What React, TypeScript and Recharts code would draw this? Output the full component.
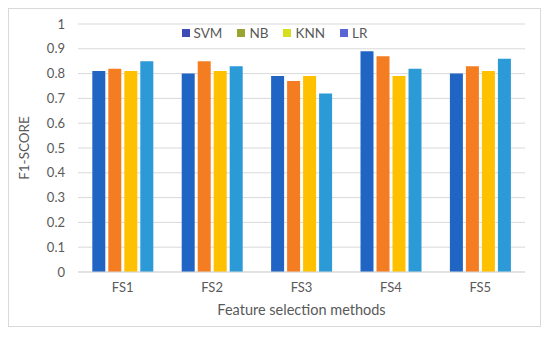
import React from 'react'
import { BarChart, Bar, XAxis, YAxis, CartesianGrid, Legend, Label } from 'recharts'

const methods = ['FS1', 'FS2', 'FS3', 'FS4', 'FS5']
const svm = [0.81, 0.8, 0.79, 0.89, 0.8]
const nb = [0.82, 0.85, 0.77, 0.87, 0.83]
const knn = [0.81, 0.81, 0.79, 0.79, 0.81]
const lr = [0.85, 0.83, 0.72, 0.82, 0.86]
const yTicks = [0, 0.1, 0.2, 0.3, 0.4, 0.5, 0.6, 0.7, 0.8, 0.9, 1]

const series = [
  { key: 'SVM', fill: '#2165c4', legend: '#3d4bb3' },
  { key: 'NB', fill: '#f47d21', legend: '#9ca431' },
  { key: 'KNN', fill: '#ffc000', legend: '#d6de1e' },
  { key: 'LR', fill: '#2b9ad7', legend: '#5865d2' },
]

const data = methods.map((m, i) => ({
  name: m,
  SVM: svm[i],
  NB: nb[i],
  KNN: knn[i],
  LR: lr[i],
}))

const font = 'Lato, "Open Sans", sans-serif'
const textColor = '#595959'

function LegendBox() {
  return (
    <div style={{ display: 'flex', justifyContent: 'center', gap: 15, fontFamily: font, fontSize: 13.5, color: textColor }}>
      {series.map((s) => (
        <div key={s.key} style={{ display: 'flex', alignItems: 'center', gap: 4 }}>
          <div style={{ width: 8, height: 8, background: s.legend }} />
          <span>{s.key}</span>
        </div>
      ))}
    </div>
  )
}

export default function App() {
  return (
    <div style={{
      width: 531,
      height: 317,
      border: '1px solid #d9d9d9',
      background: '#fff',
    }}>
      <BarChart
        width={531}
        height={317}
        data={data}
        margin={{ top: 15, right: 15, bottom: 10, left: 9 }}
        barCategoryGap="16%"
        barGap={3}
      >
        <CartesianGrid vertical={false} stroke="#d9d9d9" />
        <XAxis
          dataKey="name"
          height={44}
          tickLine={false}
          axisLine={{ stroke: '#d9d9d9' }}
          tickSize={0}
          tickMargin={11}
          tick={{ fill: textColor, fontSize: 13, fontFamily: font }}
        >
          <Label value="Feature selection methods" position="insideBottom" offset={1}
            style={{ fill: textColor, fontSize: 14.5, fontFamily: font }} />
        </XAxis>
        <YAxis
          width={60}
          domain={[0, 1]}
          ticks={yTicks}
          tickLine={false}
          axisLine={false}
          tickSize={0}
          tickMargin={13}
          tick={{ fill: textColor, fontSize: 13, fontFamily: font }}
        >
          <Label value="F1-SCORE" angle={-90} position="insideLeft" offset={6}
            style={{ fill: textColor, fontSize: 13.5, fontFamily: font, textAnchor: 'middle' }} />
        </YAxis>
        <Legend
          verticalAlign="middle"
          layout="horizontal"
          content={<LegendBox />}
          wrapperStyle={{ top: 16, left: 0, width: 531 }}
        />
        {series.map((s) => (
          <Bar key={s.key} dataKey={s.key} fill={s.fill} isAnimationActive={false} />
        ))}
      </BarChart>
    </div>
  )
}
